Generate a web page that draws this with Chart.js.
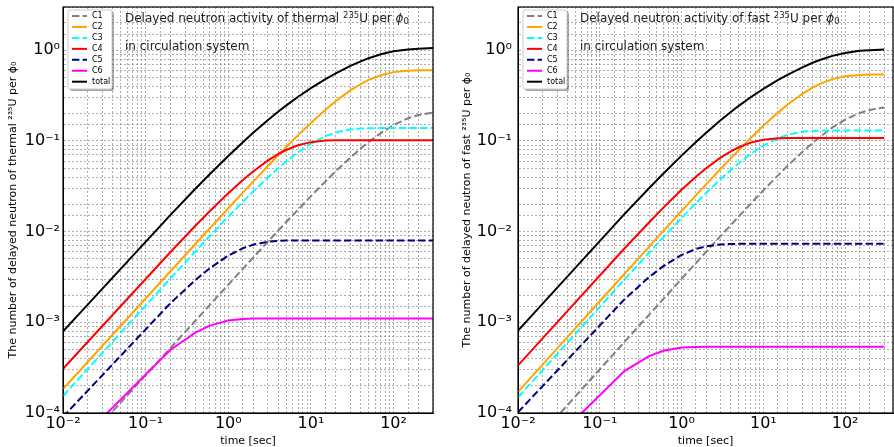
<!DOCTYPE html>
<html>
<head>
<meta charset="utf-8">
<script src="https://cdn.jsdelivr.net/npm/chart.js@4.4.1/dist/chart.umd.min.js"></script>
<style>
  body { margin: 0; background: #fff; }
  .panel { position: absolute; top: 0; width: 447px; height: 447px; }
</style>
</head>
<body>
<div class="panel" style="left:0"><canvas id="thermalChart" width="447" height="447"></canvas></div>
<div class="panel" style="left:447px"><canvas id="fastChart" width="447" height="447"></canvas></div>
<script>
// time points [sec]
const times = [0.01, 0.2, 0.4, 0.6, 1, 1.5, 2, 3, 4, 5, 7, 10, 15, 20, 30, 40, 50, 70, 100, 150, 200, 300]
const groupNames = ["C1", "C2", "C3", "C4", "C5", "C6", "total"]

// thermal 235U
const thermalC1 = [2.62e-5, 5.23e-4, 1.04e-3, 1.56e-3, 2.60e-3, 3.89e-3, 5.17e-3, 7.71e-3, 0.0102, 0.0127, 0.0175, 0.0246, 0.0358, 0.0463, 0.0656, 0.0825, 0.0975, 0.122, 0.150, 0.178, 0.193, 0.206]
const thermalC2 = [1.84e-4, 3.66e-3, 7.30e-3, 0.0109, 0.0181, 0.0269, 0.0356, 0.0526, 0.0691, 0.0852, 0.116, 0.158, 0.221, 0.275, 0.361, 0.424, 0.471, 0.531, 0.574, 0.596, 0.601, 0.602]
const thermalC3 = [1.54e-4, 3.05e-3, 6.04e-3, 8.96e-3, 0.0146, 0.0213, 0.0277, 0.0394, 0.0498, 0.0592, 0.0751, 0.0932, 0.113, 0.124, 0.134, 0.137, 0.138, 0.139, 0.139, 0.139, 0.139, 0.139]
const thermalC4 = [3.07e-4, 5.96e-3, 0.0116, 0.0169, 0.0265, 0.0371, 0.0461, 0.0607, 0.0714, 0.0794, 0.0896, 0.0970, 0.101, 0.102, 0.102, 0.102, 0.102, 0.102, 0.102, 0.102, 0.102, 0.102]
const thermalC5 = [9.07e-5, 1.63e-3, 2.93e-3, 3.96e-3, 5.44e-3, 6.55e-3, 7.18e-3, 7.74e-3, 7.92e-3, 7.97e-3, 8.0e-3, 8.0e-3, 8.0e-3, 8.0e-3, 8.0e-3, 8.0e-3, 8.0e-3, 8.0e-3, 8.0e-3, 8.0e-3, 8.0e-3, 8.0e-3]
const thermalC6 = [3.26e-5, 4.98e-4, 7.70e-4, 9.19e-4, 1.05e-3, 1.09e-3, 1.10e-3, 1.10e-3, 1.10e-3, 1.10e-3, 1.10e-3, 1.10e-3, 1.10e-3, 1.10e-3, 1.10e-3, 1.10e-3, 1.10e-3, 1.10e-3, 1.10e-3, 1.10e-3, 1.10e-3, 1.10e-3]
const thermalTotal = [7.94e-4, 0.0153, 0.0297, 0.0432, 0.0683, 0.0968, 0.123, 0.169, 0.210, 0.245, 0.307, 0.382, 0.480, 0.556, 0.672, 0.755, 0.818, 0.903, 0.974, 1.02, 1.04, 1.06]

// fast 235U
const fastC1 = [3.04e-5, 6.06e-4, 1.21e-3, 1.81e-3, 3.02e-3, 4.51e-3, 5.99e-3, 8.94e-3, 0.0118, 0.0147, 0.0203, 0.0285, 0.0415, 0.0536, 0.0757, 0.0952, 0.112, 0.141, 0.172, 0.203, 0.220, 0.234]
const fastC2 = [1.71e-4, 3.41e-3, 6.80e-3, 0.0102, 0.0169, 0.0251, 0.0332, 0.0490, 0.0643, 0.0792, 0.108, 0.147, 0.204, 0.254, 0.331, 0.388, 0.429, 0.481, 0.517, 0.535, 0.539, 0.540]
const fastC3 = [1.49e-4, 2.96e-3, 5.85e-3, 8.67e-3, 0.0141, 0.0206, 0.0267, 0.0379, 0.0479, 0.0569, 0.0719, 0.0888, 0.107, 0.117, 0.126, 0.129, 0.130, 0.130, 0.130, 0.130, 0.130, 0.130]
const fastC4 = [3.35e-4, 6.51e-3, 0.0126, 0.0184, 0.0289, 0.0403, 0.0500, 0.0655, 0.0769, 0.0852, 0.0958, 0.103, 0.107, 0.108, 0.108, 0.108, 0.108, 0.108, 0.108, 0.108, 0.108, 0.108]
const fastC5 = [1.02e-4, 1.79e-3, 3.15e-3, 4.17e-3, 5.53e-3, 6.44e-3, 6.89e-3, 7.23e-3, 7.31e-3, 7.33e-3, 7.34e-3, 7.34e-3, 7.34e-3, 7.34e-3, 7.34e-3, 7.34e-3, 7.34e-3, 7.34e-3, 7.34e-3, 7.34e-3, 7.34e-3, 7.34e-3]
const fastC6 = [2.04e-5, 2.90e-4, 4.24e-4, 4.85e-4, 5.27e-4, 5.36e-4, 5.38e-4, 5.38e-4, 5.38e-4, 5.38e-4, 5.38e-4, 5.38e-4, 5.38e-4, 5.38e-4, 5.38e-4, 5.38e-4, 5.38e-4, 5.38e-4, 5.38e-4, 5.38e-4, 5.38e-4, 5.38e-4]
const fastTotal = [8.09e-4, 0.0156, 0.0301, 0.0437, 0.0689, 0.0974, 0.123, 0.169, 0.209, 0.244, 0.303, 0.375, 0.468, 0.540, 0.649, 0.728, 0.787, 0.868, 0.935, 0.985, 1.00, 1.02]

const xTickValues = [0.01, 0.1, 1, 10, 100]
const xTickLabels = ["10⁻²", "10⁻¹", "10⁰", "10¹", "10²"]
const yTickValues = [1e-4, 1e-3, 1e-2, 1e-1, 1]
const yTickLabels = ["10⁻⁴", "10⁻³", "10⁻²", "10⁻¹", "10⁰"]

const lineStyles = [
	{ color: "#808080", dash: [7.4, 3.2] },
	{ color: "#ffa500", dash: [] },
	{ color: "#00ffff", dash: [7.4, 3.2] },
	{ color: "#ff0000", dash: [] },
	{ color: "#000080", dash: [7.4, 3.2] },
	{ color: "#ff00ff", dash: [] },
	{ color: "#000000", dash: [] },
]

Chart.defaults.font.family = "'DejaVu Sans', sans-serif"

function tickLabel(values, labels) {
	return function (value) {
		const i = values.findIndex(v => Math.abs(Math.log10(v) - Math.log10(value)) < 1e-6)
		return i >= 0 ? labels[i] : ""
	}
}

function roundRect(ctx, x, y, w, h, r) {
	ctx.beginPath()
	ctx.moveTo(x + r, y)
	ctx.arcTo(x + w, y, x + w, y + h, r)
	ctx.arcTo(x + w, y + h, x, y + h, r)
	ctx.arcTo(x, y + h, x, y, r)
	ctx.arcTo(x, y, x + w, y, r)
	ctx.closePath()
}

// frame, legend box and the two text lines inside the plot
const overlayPlugin = {
	id: "overlay",
	afterDraw(chart) {
		const ctx = chart.ctx
		const area = chart.chartArea
		const kind = chart.options.plugins.overlay.kind
		ctx.save()

		ctx.setLineDash([])
		ctx.strokeStyle = "#000"
		ctx.lineWidth = 1.2
		ctx.strokeRect(area.left, area.top, area.right - area.left, area.bottom - area.top)

		// legend
		const lx = area.left + 5, ly = area.top + 3, lw = 44, lh = 79
		ctx.fillStyle = "rgba(0,0,0,0.35)"
		roundRect(ctx, lx + 2, ly + 2, lw, lh, 2)
		ctx.fill()
		ctx.fillStyle = "#fff"
		roundRect(ctx, lx, ly, lw, lh, 2)
		ctx.fill()
		ctx.strokeStyle = "#cccccc"
		ctx.lineWidth = 1
		ctx.stroke()
		ctx.font = "8px 'DejaVu Sans'"
		ctx.textBaseline = "middle"
		chart.data.datasets.forEach((ds, i) => {
			const y = ly + 6 + i * 10.95
			ctx.strokeStyle = ds.borderColor
			ctx.lineWidth = 2
			ctx.setLineDash(ds.borderDash)
			ctx.beginPath()
			ctx.moveTo(lx + 4, y)
			ctx.lineTo(lx + 19, y)
			ctx.stroke()
			ctx.setLineDash([])
			ctx.fillStyle = "#000"
			ctx.fillText(ds.label, lx + 24, y)
		})

		// text
		ctx.fillStyle = "#222"
		ctx.textBaseline = "alphabetic"
		let x = area.left + 62
		const y1 = area.top + 15
		const parts = [
			["Delayed neutron activity of " + kind + " ", "12px 'DejaVu Sans'", 0],
			["235", "8.5px 'DejaVu Sans'", -4.5],
			["U per ", "12px 'DejaVu Sans'", 0],
			["ϕ", "italic 12px 'DejaVu Sans'", 0],
			["0", "8.5px 'DejaVu Sans'", 2],
		]
		parts.forEach(([text, font, dy]) => {
			ctx.font = font
			ctx.fillText(text, x, y1 + dy)
			x += ctx.measureText(text).width
		})
		ctx.font = "12px 'DejaVu Sans'"
		ctx.fillText("in circulation system", area.left + 62, area.top + 43)

		ctx.restore()
	}
}

function makeChart(id, series, kind, xMax, axisWidth, yTitlePad, yLabelPad, rightPad) {
	const ctx = document.getElementById(id).getContext("2d")
	return new Chart(ctx, {
		type: "line",
		data: {
			labels: times,
			datasets: series.map((values, i) => ({
				label: groupNames[i],
				data: times.map((t, j) => ({ x: t, y: values[j] })),
				borderColor: lineStyles[i].color,
				borderDash: lineStyles[i].dash,
				borderWidth: 2,
				pointRadius: 0,
				fill: false,
				tension: 0,
				order: series.length - i,
			})),
		},
		options: {
			responsive: false,
			animation: false,
			devicePixelRatio: 1,
			layout: { padding: { left: 0, right: rightPad, top: 7, bottom: 0 } },
			plugins: {
				legend: { display: false },
				tooltip: { enabled: false },
				overlay: { kind: kind },
			},
			scales: {
				x: {
					type: "logarithmic",
					min: 0.01,
					max: xMax,
					afterFit: s => { s.height = 34; s.paddingLeft = 0; s.paddingRight = 0 },
					grid: { color: "rgba(120,120,120,0.75)", lineWidth: 0.8, drawTicks: false },
					border: { display: true, color: "#000", dash: [2, 2] },
					ticks: {
						autoSkip: false,
						maxRotation: 0,
						padding: 1,
						color: "#000",
						font: { size: 16 },
						callback: tickLabel(xTickValues, xTickLabels),
					},
					title: {
						display: true,
						text: "time [sec]",
						color: "#000",
						font: { size: 11, lineHeight: 1.1 },
						padding: { top: 0, bottom: 0 },
					},
				},
				y: {
					type: "logarithmic",
					min: 1e-4,
					max: 3,
					afterFit: s => { s.width = axisWidth; s.paddingTop = 0; s.paddingBottom = 0 },
					grid: { color: "rgba(120,120,120,0.75)", lineWidth: 0.8, drawTicks: false },
					border: { display: true, color: "#000", dash: [2, 2] },
					ticks: {
						autoSkip: false,
						padding: yLabelPad,
						color: "#000",
						font: { size: 16 },
						callback: tickLabel(yTickValues, yTickLabels),
					},
					title: {
						display: true,
						text: "The number of delayed neutron of " + kind + " ²³⁵U per ϕ₀",
						color: "#000",
						font: { size: 11 },
						padding: { top: yTitlePad, bottom: 0 },
					},
				},
			},
		},
		plugins: [overlayPlugin],
	})
}

makeChart("thermalChart",
	[thermalC1, thermalC2, thermalC3, thermalC4, thermalC5, thermalC6, thermalTotal],
	"thermal", 300, 63, 6.5, 3, 14)
makeChart("fastChart",
	[fastC1, fastC2, fastC3, fastC4, fastC5, fastC6, fastTotal],
	"fast", 385, 71, 13.4, 6, 1)
</script>
</body>
</html>
